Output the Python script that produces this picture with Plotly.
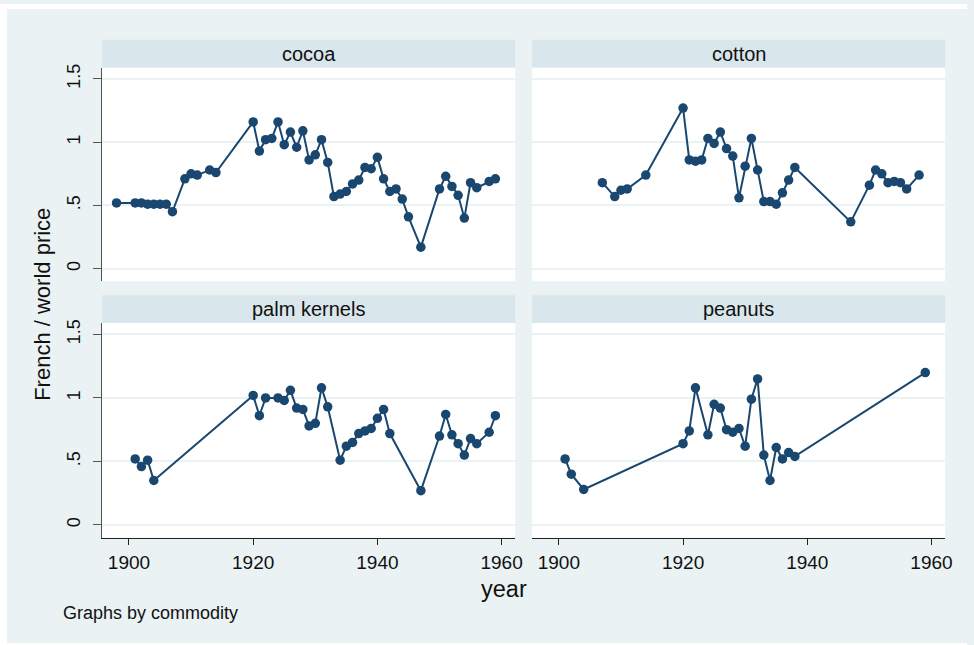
import plotly.graph_objects as go

W, H = 974, 645

# ---------------- data ----------------
cocoa_year = [1898, 1901, 1902, 1903, 1904, 1905, 1906, 1907, 1909, 1910, 1911, 1913, 1914,
              1920, 1921, 1922, 1923, 1924, 1925, 1926, 1927, 1928, 1929, 1930, 1931, 1932,
              1933, 1934, 1935, 1936, 1937, 1938, 1939, 1940, 1941, 1942, 1943, 1944, 1945,
              1947, 1950, 1951, 1952, 1953, 1954, 1955, 1956, 1958, 1959]
cocoa_val = [0.52, 0.52, 0.52, 0.51, 0.51, 0.51, 0.51, 0.45, 0.71, 0.75, 0.74, 0.78, 0.76,
             1.16, 0.93, 1.02, 1.03, 1.16, 0.98, 1.08, 0.96, 1.09, 0.86, 0.90, 1.02, 0.84,
             0.57, 0.59, 0.61, 0.67, 0.70, 0.80, 0.79, 0.88, 0.71, 0.61, 0.63, 0.55, 0.41,
             0.17, 0.63, 0.73, 0.65, 0.58, 0.40, 0.68, 0.64, 0.69, 0.71]

cotton_year = [1907, 1909, 1910, 1911, 1914, 1920, 1921, 1922, 1923, 1924, 1925, 1926, 1927,
               1928, 1929, 1930, 1931, 1932, 1933, 1934, 1935, 1936, 1937, 1938, 1947, 1950,
               1951, 1952, 1953, 1954, 1955, 1956, 1958]
cotton_val = [0.68, 0.57, 0.62, 0.63, 0.74, 1.27, 0.86, 0.85, 0.86, 1.03, 0.99, 1.08, 0.95,
              0.89, 0.56, 0.81, 1.03, 0.78, 0.53, 0.53, 0.51, 0.60, 0.70, 0.80, 0.37, 0.66,
              0.78, 0.75, 0.68, 0.69, 0.68, 0.63, 0.74]

palm_year = [1901, 1902, 1903, 1904, 1920, 1921, 1922, 1924, 1925, 1926, 1927, 1928, 1929,
             1930, 1931, 1932, 1934, 1935, 1936, 1937, 1938, 1939, 1940, 1941, 1942, 1947,
             1950, 1951, 1952, 1953, 1954, 1955, 1956, 1958, 1959]
palm_val = [0.52, 0.46, 0.51, 0.35, 1.02, 0.86, 1.00, 1.00, 0.98, 1.06, 0.92, 0.91, 0.78,
            0.80, 1.08, 0.93, 0.51, 0.62, 0.65, 0.72, 0.74, 0.76, 0.84, 0.91, 0.72, 0.27,
            0.70, 0.87, 0.71, 0.64, 0.55, 0.68, 0.64, 0.73, 0.86]

peanut_year = [1901, 1902, 1904, 1920, 1921, 1922, 1924, 1925, 1926, 1927, 1928, 1929, 1930,
               1931, 1932, 1933, 1934, 1935, 1936, 1937, 1938, 1959]
peanut_val = [0.52, 0.40, 0.28, 0.64, 0.74, 1.08, 0.71, 0.95, 0.92, 0.75, 0.73, 0.76, 0.62,
              0.99, 1.15, 0.55, 0.35, 0.61, 0.52, 0.57, 0.54, 1.20]

panel_titles = ["cocoa", "cotton", "palm kernels", "peanuts"]
x_ticks = [1900, 1920, 1940, 1960]
y_ticks = [0, 0.5, 1, 1.5]
y_tick_text = ["0", ".5", "1", "1.5"]

series = [(cocoa_year, cocoa_val), (cotton_year, cotton_val),
          (palm_year, palm_val), (peanut_year, peanut_val)]

# ---------------- styling ----------------
BG = "#EAF2F3"
STRIP = "#D9E6EB"
NAVY = "#1a476f"
FONT = "Liberation Sans, Arial, sans-serif"

def px_x(p):
    return p / W

def px_y(p):
    return 1 - p / H

# panel geometry in pixels (left, right, top, bottom)
cols = [(103, 519), (536, 952)]
rows = [(64, 279), (321, 537)]
strips = [(36, 64), (293, 321)]

fig = go.Figure()
layout = dict(
    width=W, height=H, autosize=False,
    margin=dict(l=0, r=0, t=0, b=0),
    paper_bgcolor=BG, plot_bgcolor="white",
    showlegend=False,
    font=dict(family=FONT, color="#111111"),
    shapes=[], annotations=[],
)

xr = [1895.7, 1962.2]
yr = [-0.1, 1.59]

for i in range(4):
    r, c = divmod(i, 2)
    n = i + 1
    xa = "xaxis" if n == 1 else f"xaxis{n}"
    ya = "yaxis" if n == 1 else f"yaxis{n}"
    xref = "x" if n == 1 else f"x{n}"
    yref = "y" if n == 1 else f"y{n}"
    bottom = (r == 1)
    left = (c == 0)
    layout[xa] = dict(
        domain=[px_x(cols[c][0]), px_x(cols[c][1])],
        range=xr, anchor=yref,
        showgrid=False, zeroline=False,
        tickvals=x_ticks, ticktext=[str(v) for v in x_ticks],
        showticklabels=bottom,
        ticks="outside" if bottom else "",
        ticklen=6, tickwidth=1.2, tickcolor="#222222",
        showline=bottom, linecolor="#222222", linewidth=1.2,
        tickfont=dict(size=19, family=FONT, color="#111111"),
        ticklabelstandoff=1,
        fixedrange=True,
    )
    layout[ya] = dict(
        domain=[px_y(rows[r][1]), px_y(rows[r][0])],
        range=yr, anchor=xref,
        showgrid=True, gridcolor=BG, gridwidth=1.6,
        zeroline=False,
        tickvals=y_ticks, ticktext=y_tick_text,
        showticklabels=left,
        ticks="outside" if left else "",
        ticklen=8, tickwidth=1.2, tickcolor="#555555",
        showline=left, linecolor="#555555", linewidth=1.2,
        tickangle=-90,
        tickfont=dict(size=18, family=FONT, color="#111111"),
        ticklabelstandoff=6,
        fixedrange=True,
    )
    yrs, vals = series[i]
    fig.add_trace(go.Scatter(
        x=yrs, y=vals, mode="lines+markers",
        xaxis=xref, yaxis=yref,
        line=dict(color=NAVY, width=2),
        marker=dict(color=NAVY, size=9.5, symbol="circle"),
        hoverinfo="x+y",
    ))
    # header strip
    s0, s1 = strips[r]
    layout["shapes"].append(dict(
        type="rect", xref="paper", yref="paper",
        x0=px_x(cols[c][0]), x1=px_x(cols[c][1]),
        y0=px_y(s1), y1=px_y(s0),
        fillcolor=STRIP, line=dict(width=0), layer="below",
    ))
    layout["annotations"].append(dict(
        text=panel_titles[i], xref="paper", yref="paper",
        x=px_x((cols[c][0] + cols[c][1]) / 2), y=px_y((s0 + s1) / 2),
        xanchor="center", yanchor="middle", showarrow=False,
        font=dict(size=20, family=FONT, color="#111111"),
    ))

# white outer border strips
for (x0, x1, y0, y1) in [(0, 7, 0, H), (0, W, 0, 5), (0, W, 643, H)]:
    layout["shapes"].append(dict(
        type="rect", xref="paper", yref="paper",
        x0=px_x(x0), x1=px_x(x1), y0=px_y(y1), y1=px_y(y0),
        fillcolor="white", line=dict(width=0), layer="below",
    ))

# axis titles and note
layout["annotations"].append(dict(
    text="French / world price", xref="paper", yref="paper",
    x=px_x(42), y=px_y(302), textangle=-90,
    xanchor="center", yanchor="middle", showarrow=False,
    font=dict(size=22, family=FONT, color="#111111"),
))
layout["annotations"].append(dict(
    text="year", xref="paper", yref="paper",
    x=px_x(508), y=px_y(589),
    xanchor="center", yanchor="middle", showarrow=False,
    font=dict(size=23.5, family=FONT, color="#111111"),
))
layout["annotations"].append(dict(
    text="Graphs by commodity", xref="paper", yref="paper",
    x=px_x(61), y=px_y(613),
    xanchor="left", yanchor="middle", showarrow=False,
    font=dict(size=18, family=FONT, color="#111111"),
))

fig.update_layout(**layout)
fig.write_html(
    "out.html",
    config={"displayModeBar": False},
    post_script="document.body.style.margin='0';document.body.style.overflow='hidden';",
)
